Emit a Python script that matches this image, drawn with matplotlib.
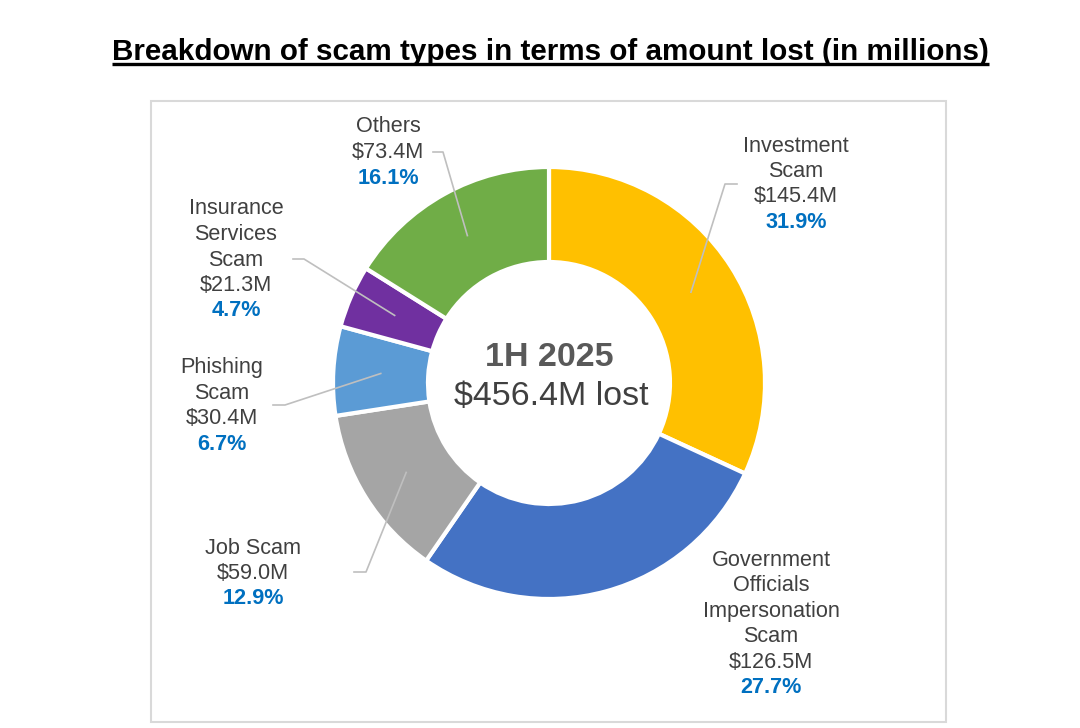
import numpy as np
import matplotlib
matplotlib.use("Agg")
import matplotlib.pyplot as plt
from matplotlib.patches import Rectangle

plt.rcParams['font.family'] = ['Liberation Sans', 'DejaVu Sans']

# data
names = ["Investment\nScam", "Government\nOfficials\nImpersonation\nScam", "Job Scam",
         "Phishing\nScam", "Insurance\nServices\nScam", "Others"]
amounts = [145.4, 126.5, 59.0, 30.4, 21.3, 73.4]
amount_labels = ["$145.4M", "$126.5M", "$59.0M", "$30.4M", "$21.3M", "$73.4M"]
pct_labels = ["31.9%", "27.7%", "12.9%", "6.7%", "4.7%", "16.1%"]
colors = ["#FFC000", "#4472C4", "#A5A5A5", "#5B9BD5", "#7030A0", "#70AD47"]
title = "Breakdown of scam types in terms of amount lost (in millions)"
center_top = "1H 2025"
center_bottom = "$456.4M lost"

W, H = 1080, 728
fig = plt.figure(figsize=(W / 100, H / 100), dpi=100)
ax = fig.add_axes([0, 0, 1, 1])

# pixel-like coordinates, y measured from the top
def Y(y):
    return H - y

cx, cy, R = 549, 383, 216
wedges, _ = ax.pie(amounts, radius=R, center=(cx, Y(cy)), startangle=90,
                   counterclock=False, colors=colors,
                   wedgeprops=dict(width=95, edgecolor="white", linewidth=3))
ax.set_xlim(0, W)
ax.set_ylim(0, H)
ax.set_aspect("auto")
ax.axis("off")

# frame around chart area
ax.add_patch(Rectangle((151, Y(722)), 795, 621, fill=False,
                       edgecolor="#D9D9D9", lw=1.5, zorder=0))

# title with underline
t = ax.text(550.5, Y(59.5), title, ha="center", va="baseline", fontsize=21.3,
            fontweight="bold", color="black")
fig.canvas.draw()
bb = t.get_window_extent()
ax.plot([bb.x0, bb.x1], [Y(64), Y(64)], color="black", lw=2.4,
        solid_capstyle="butt")

# centre text
ax.text(549, Y(357), center_top, ha="center", va="center", fontsize=24.5,
        fontweight="bold", color="#595959")
ax.text(551, Y(397), center_bottom, ha="center", va="center", fontsize=24.5,
        color="#404040")

# label anchors: centre x, first line centre y, leader elbow (start, end)
label_pos = [(796, 146), (771, 560), (253, 548), (222, 368), (236, 209), (388, 127)]
elbows = [((737, 184), (725, 184)), None, ((354, 572), (366, 572)),
          ((273, 405), (285, 405)), ((293, 259), (304, 259)),
          ((433, 152), (443, 152))]
lh = 25.5
gray = "#404040"

for i, w in enumerate(wedges):
    lx, ly = label_pos[i]
    lines = names[i].split("\n") + [amount_labels[i]]
    for k, s in enumerate(lines):
        ax.text(lx, Y(ly + k * lh), s, ha="center", va="center",
                fontsize=15.6, color=gray)
    ax.text(lx, Y(ly + len(lines) * lh), pct_labels[i], ha="center",
            va="center", fontsize=15.6, fontweight="bold", color="#0070C0")
    if elbows[i] is not None:
        ang = np.deg2rad((w.theta1 + w.theta2) / 2)
        r = R - 95 / 2
        px, py = cx + r * np.cos(ang), Y(cy) + r * np.sin(ang)
        (x0, y0), (x1, y1) = elbows[i]
        ax.plot([x0, x1, px], [Y(y0), Y(y1), py], color="#BFBFBF", lw=1.2,
                zorder=5)

fig.savefig("out.png", dpi=100)
